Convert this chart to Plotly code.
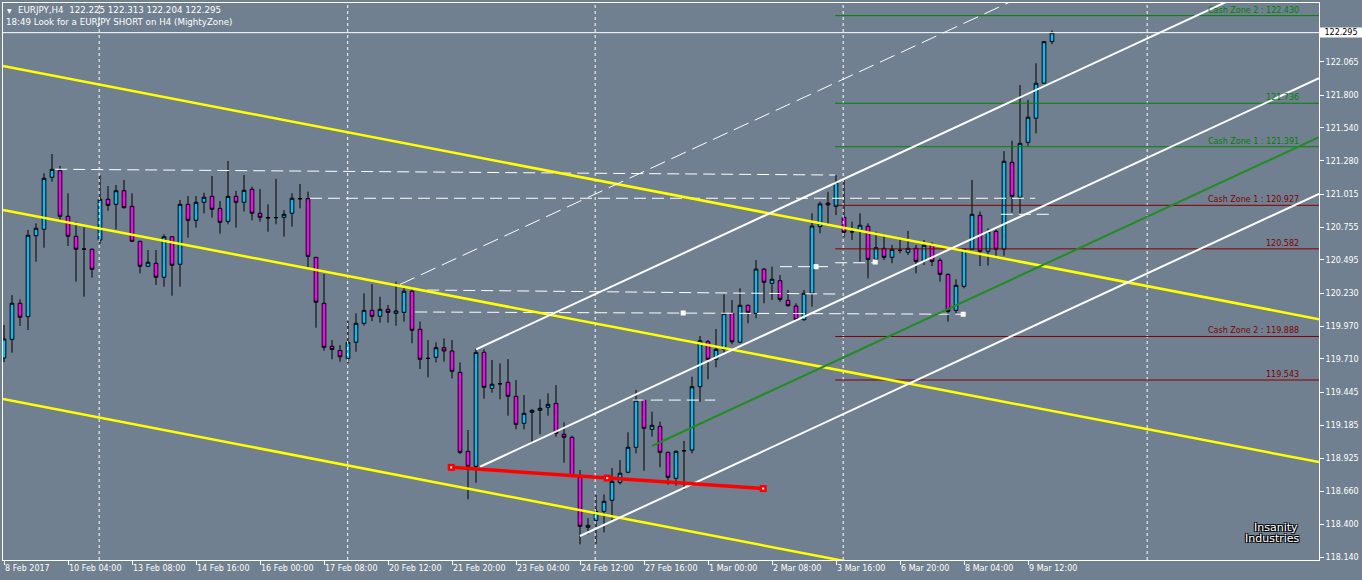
import plotly.graph_objects as go

# ---------------- data ----------------
bar_index = list(range(132))
open_ = [119.717,119.865,120.151,120.045,120.686,120.737,121.149,121.201,120.840,120.682,
         120.581,120.579,120.652,120.975,120.935,121.043,120.919,120.642,120.444,120.468,
         120.357,120.678,120.460,120.935,120.808,120.951,120.998,120.903,120.800,120.998,
         120.951,121.054,120.864,120.829,120.829,120.832,120.864,120.980,120.980,120.515,
         120.151,119.810,119.777,119.712,119.842,119.992,120.095,120.048,120.103,120.071,
         120.079,120.246,119.945,119.715,119.723,119.799,119.773,119.604,118.978,118.859,
         119.762,119.477,119.514,119.525,119.414,119.200,119.287,119.303,119.327,119.358,
         119.113,119.089,118.772,118.376,118.431,118.502,118.590,118.732,118.812,119.010,
         119.382,119.152,119.176,118.970,118.764,118.983,118.988,119.490,119.846,119.707,
         119.786,120.071,119.842,120.135,120.071,120.422,120.309,120.330,120.174,120.129,
         120.021,120.230,120.758,120.945,120.919,120.832,120.718,120.721,120.761,120.499,
         120.586,120.515,120.571,120.555,120.586,120.483,120.618,120.491,120.380,120.095,
         120.285,120.579,120.848,120.563,120.721,120.579,121.268,120.991,121.426,121.617,
         121.894,122.225]
high = [119.979,120.216,120.182,120.732,120.785,121.181,121.334,121.239,121.022,120.797,
        120.753,120.585,121.167,121.080,121.088,121.128,121.022,120.646,120.573,120.573,
        120.697,120.682,120.969,121.001,121.001,121.027,121.159,120.961,121.278,121.041,
        121.167,121.075,121.056,120.935,121.136,120.890,121.022,121.096,121.035,120.518,
        120.383,119.860,119.820,120.010,120.071,120.230,120.301,120.203,120.137,120.322,
        120.288,120.282,120.005,119.860,119.842,119.873,119.860,119.683,119.147,119.794,
        119.786,119.701,119.675,119.709,119.543,119.424,119.311,119.390,119.438,119.503,
        119.208,119.102,118.830,118.449,118.632,118.637,118.846,118.909,119.129,119.464,
        119.390,119.292,119.213,118.975,118.986,119.060,119.569,119.892,119.860,119.947,
        120.222,120.177,120.270,120.140,120.494,120.428,120.441,120.375,120.256,120.151,
        120.256,120.864,120.956,121.035,121.167,121.136,120.797,120.864,120.785,120.718,
        120.700,120.613,120.660,120.724,120.613,120.652,120.634,120.507,120.388,120.341,
        120.586,121.128,120.877,120.745,120.737,121.357,121.439,121.880,121.762,122.052,
        122.228,122.313]
low = [119.685,119.759,119.971,119.939,120.480,120.591,121.114,120.803,120.605,120.322,
       120.203,120.354,120.621,120.884,120.737,120.903,120.639,120.388,120.441,120.296,
       120.282,120.211,120.282,120.670,120.750,120.864,120.829,120.702,120.777,120.750,
       120.877,120.808,120.797,120.718,120.777,120.678,120.758,120.903,120.428,119.957,
       119.775,119.707,119.688,119.675,119.767,119.973,120.010,119.997,119.997,119.973,
       120.005,119.834,119.630,119.564,119.683,119.688,119.556,118.957,118.598,118.729,
       119.395,119.442,119.390,119.260,119.152,119.152,119.041,119.113,119.260,119.094,
       118.888,118.772,118.241,118.320,118.246,118.336,118.434,118.716,118.804,118.962,
       118.824,119.094,118.851,118.713,118.705,118.671,118.962,119.371,119.548,119.644,
       119.755,119.826,119.834,119.992,120.032,120.151,120.177,120.163,120.124,120.018,
       120.013,120.124,120.705,120.771,120.850,120.674,120.652,120.480,120.349,120.468,
       120.494,120.468,120.547,120.533,120.388,120.454,120.446,120.322,120.005,120.071,
       120.270,120.573,120.446,120.449,120.507,120.528,120.869,120.858,121.399,121.498,
       121.890,122.204]
close = [119.868,120.151,120.040,120.690,120.745,121.141,121.212,120.840,120.682,120.579,
         120.580,120.420,120.975,120.927,121.043,120.908,120.642,120.444,120.476,120.357,
         120.678,120.452,120.935,120.808,120.951,120.991,120.896,120.792,120.998,120.951,
         121.046,120.864,120.832,120.828,120.830,120.856,120.983,120.979,120.523,120.159,
         119.802,119.785,119.727,119.842,119.992,120.095,120.048,120.103,120.079,120.090,
         120.246,119.937,119.707,119.714,119.799,119.773,119.612,118.970,118.859,119.762,
         119.485,119.509,119.513,119.414,119.192,119.279,119.303,119.319,119.350,119.121,
         119.089,118.780,118.384,118.392,118.502,118.582,118.740,118.804,119.010,119.382,
         119.160,119.184,118.970,118.772,118.978,118.982,119.490,119.854,119.707,119.786,
         120.071,119.846,120.135,120.079,120.422,120.317,120.341,120.182,120.132,120.021,
         120.230,120.763,120.938,120.930,121.109,120.713,120.717,120.769,120.499,120.591,
         120.515,120.579,120.570,120.586,120.483,120.610,120.483,120.380,120.087,120.293,
         120.579,120.856,120.563,120.721,120.579,121.276,120.998,121.418,121.625,121.894,
         122.224,122.295]

tick_bars = [0, 8, 16, 24, 32, 40, 48, 56, 64, 72, 80, 88, 96, 104, 112, 120, 128]
tick_labels = ["8 Feb 2017", "10 Feb 04:00", "13 Feb 08:00", "14 Feb 16:00", "16 Feb 00:00",
               "17 Feb 08:00", "20 Feb 12:00", "21 Feb 20:00", "23 Feb 04:00", "24 Feb 12:00",
               "27 Feb 16:00", "1 Mar 00:00", "2 Mar 08:00", "3 Mar 16:00", "6 Mar 20:00",
               "8 Mar 04:00", "9 Mar 12:00"]
# 122.325 sits under the current-price box, so only its tick mark is drawn
price_ticks = [122.325, 122.065, 121.800, 121.540, 121.280, 121.015, 120.755, 120.495,
               120.230, 119.970, 119.710, 119.445, 119.185, 118.925, 118.660, 118.400, 118.140]
price_tick_text = [""] + ["%.3f" % v for v in price_ticks[1:]]

separator_bars = [11.9, 42.96, 73.9, 104.9, 142.9]

# yellow descending channel (bar, price anchors)
yellow_bars = [-0.125, 164.375]
yellow_upper = [122.031, 120.025]
yellow_middle = [120.890, 118.893]
yellow_lower = [119.392, 117.385]

# white ascending channel + median (bar, price anchors)
white_a_bars, white_a_prices = [59, 164.375], [119.786, 122.879]
white_b_bars, white_b_prices = [59.5, 164.375], [118.856, 121.934]
white_c_bars, white_c_prices = [72, 164.375], [118.307, 121.018]
green_bars, green_prices = [81, 164.375], [119.020, 121.467]
white_e_bars, white_e_prices = [49.5, 164.375], [120.300, 123.672]

# red trend line
red_bars = [55.9, 75.4, 94.9]
red_prices = [118.851, 118.766, 118.683]

# dashed horizontal zone lines
zone_dash_lines = [
    ([6.4, 103.9], [121.213, 121.167]),
    ([38.25, 128.9], [120.983, 120.983]),
    ([52.9, 104.1], [120.256, 120.224]),
    ([51.4, 119.9], [120.082, 120.064]),
    ([97.0, 103.6], [120.441, 120.441]),
    ([103.9, 108.9], [120.472, 120.472]),
    ([78.6, 88.9], [119.384, 119.384]),
    ([124.6, 130.75], [120.856, 120.856]),
]
square_bars = [84.9, 119.9, 101.5, 108.9]
square_prices = [120.074, 120.064, 120.441, 120.478]

# cash zone levels
zone_start_bar = 103.9
zone_prices = [122.430, 121.736, 121.391, 120.927, 120.582, 119.888, 119.543]
zone_labels = ["Cash Zone 2 : 122.430", "121.736", "Cash Zone 1 : 121.391",
               "Cash Zone 1 : 120.927", "120.582", "Cash Zone 2 : 119.888", "119.543"]
zone_colors = ["#008000", "#008000", "#008000", "#800000", "#800000", "#800000", "#800000"]

last_price = 122.295

# ---------------- figure ----------------
BG = "#708090"
FONT = "DejaVu Sans"
X_MIN, X_MAX = -0.125, 164.375
Y_MIN, Y_MAX = 118.117, 122.530

fig = go.Figure()

def line(xs, ys, color, width, dash="solid"):
    fig.add_trace(go.Scatter(x=xs, y=ys, mode="lines",
                             line=dict(color=color, width=width, dash=dash),
                             hoverinfo="skip", showlegend=False))

for v in separator_bars:
    line([v, v], [Y_MIN, Y_MAX], "white", 1, "3px,3px")

fig.add_trace(go.Candlestick(
    x=bar_index, open=open_, high=high, low=low, close=close,
    increasing=dict(line=dict(color="black", width=1), fillcolor="#00BFFF"),
    decreasing=dict(line=dict(color="black", width=1), fillcolor="#FF00FF"),
    whiskerwidth=0, hoverinfo="skip", showlegend=False))

for xs, ys in zone_dash_lines:
    line(xs, ys, "white", 1, "12px,6px")
fig.add_trace(go.Scatter(x=square_bars, y=square_prices, mode="markers",
                         marker=dict(symbol="square", size=5, color="white"),
                         hoverinfo="skip", showlegend=False))

line([X_MIN, X_MAX], [last_price, last_price], "white", 1)

for p, c in zip(zone_prices, zone_colors):
    line([zone_start_bar, X_MAX], [p, p], c, 1)

for ys in (yellow_upper, yellow_middle, yellow_lower):
    line(yellow_bars, ys, "#FFFF00", 2.5)

line(white_e_bars, white_e_prices, "white", 1, "16px,7px")
line(white_a_bars, white_a_prices, "white", 2)
line(white_b_bars, white_b_prices, "white", 2)
line(white_c_bars, white_c_prices, "white", 2)
line(green_bars, green_prices, "#228B22", 2)

line(red_bars, red_prices, "#FF0000", 3.5)
fig.add_trace(go.Scatter(x=red_bars, y=red_prices, mode="markers",
                         marker=dict(symbol="square", size=7, color="#FF0000"),
                         hoverinfo="skip", showlegend=False))
fig.add_trace(go.Scatter(x=red_bars, y=red_prices, mode="markers",
                         marker=dict(symbol="square", size=2, color="white"),
                         hoverinfo="skip", showlegend=False))

for p, t, c in zip(zone_prices, zone_labels, zone_colors):
    fig.add_annotation(x=162, y=p, xref="x", yref="y", text=t, showarrow=False,
                       xanchor="right", yanchor="bottom", borderpad=0,
                       font=dict(family=FONT, size=8, color=c))

# header texts
fig.add_annotation(xref="paper", yref="paper", x=0, y=1, xanchor="left", yanchor="top",
                   xshift=3, yshift=-3, showarrow=False, borderpad=0,
                   text="\u25BC", font=dict(family=FONT, size=6, color="white"))
fig.add_annotation(xref="paper", yref="paper", x=0, y=1, xanchor="left", yanchor="top",
                   xshift=14, yshift=-1, showarrow=False, borderpad=0,
                   text="EURJPY,H4\u00a0\u00a0122.225 122.313 122.204 122.295",
                   font=dict(family=FONT, size=8.7, color="white"))
fig.add_annotation(xref="paper", yref="paper", x=0, y=1, xanchor="left", yanchor="top",
                   xshift=2, yshift=-13, showarrow=False, borderpad=0,
                   text="18:49 Look for a EURJPY SHORT on H4 (MightyZone)",
                   font=dict(family=FONT, size=8.7, color="white"))

# current price box on the price scale
fig.add_annotation(xref="paper", yref="y", x=1, y=last_price, xanchor="left", yanchor="middle",
                   showarrow=False, text="122.295", bgcolor="white", borderpad=0,
                   width=42, height=9, align="center",
                   font=dict(family=FONT, size=8, color="black"))

# watermark
shadow = "1px 1px 0 #000, -1px -1px 0 #000, 1px -1px 0 #000, -1px 1px 0 #000"
fig.add_annotation(xref="paper", yref="paper", x=(1300 - 3) / 1316, y=(560 - 527) / 557,
                   xanchor="right", yanchor="middle", showarrow=False, text="Insanity",
                   font=dict(family=FONT, size=11, color="white", shadow=shadow))
fig.add_annotation(xref="paper", yref="paper", x=(1302 - 3) / 1316, y=(560 - 538) / 557,
                   xanchor="right", yanchor="middle", showarrow=False, text="Industries",
                   font=dict(family=FONT, size=11, color="white", shadow=shadow))

fig.update_layout(
    width=1362, height=580,
    margin=dict(l=3, r=43, t=3, b=20),
    paper_bgcolor=BG, plot_bgcolor=BG,
    boxgap=0.35, showlegend=False,
    xaxis=dict(range=[X_MIN, X_MAX], rangeslider=dict(visible=False), showgrid=False,
               zeroline=False, showline=True, mirror=True, linecolor="white", linewidth=1,
               tickmode="array", tickvals=tick_bars, ticktext=tick_labels,
               ticks="outside", ticklen=4, tickcolor="white",
               ticklabelposition="outside right",
               tickfont=dict(family=FONT, size=8, color="white")),
    yaxis=dict(range=[Y_MIN, Y_MAX], side="right", showgrid=False, zeroline=False,
               showline=True, mirror=True, linecolor="white", linewidth=1,
               tickmode="array", tickvals=price_ticks, ticktext=price_tick_text,
               ticks="outside", ticklen=4, tickcolor="white",
               tickfont=dict(family=FONT, size=8, color="white")),
)

fig.write_html("out.html", config={"displayModeBar": False},
               post_script="document.body.style.margin='0';document.body.style.overflow='hidden';")
